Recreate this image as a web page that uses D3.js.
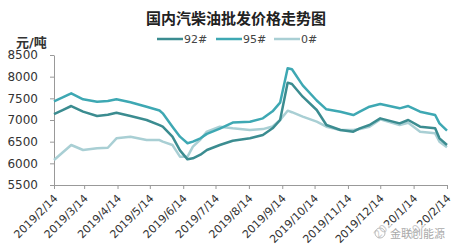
<!DOCTYPE html>
<html>
<head>
<meta charset="utf-8">
<script src="https://cdn.jsdelivr.net/npm/d3@7"></script>
<style>
  body { margin: 0; background: #fff; }
  text { font-family: "DejaVu Sans", "Noto Sans CJK SC", sans-serif; }
</style>
</head>
<body>
<svg id="chart" width="454" height="250"></svg>
<script>
// dates of the points (weekly-ish readings)
var dates = ["2019-02-14","2019-02-22","2019-03-02","2019-03-13","2019-03-26","2019-04-05","2019-04-13",
  "2019-04-26","2019-05-11","2019-05-23","2019-05-26","2019-06-04","2019-06-11","2019-06-18","2019-06-23",
  "2019-06-30","2019-07-06","2019-07-18","2019-07-30","2019-08-15","2019-08-27","2019-09-05","2019-09-12",
  "2019-09-19","2019-09-23","2019-10-03","2019-10-16","2019-10-25","2019-11-07","2019-11-19","2019-11-25",
  "2019-12-04","2019-12-14","2020-01-01","2020-01-09","2020-01-20","2020-02-03","2020-02-07","2020-02-14"];

var p92 = [7138,7230,7323,7192,7092,7120,7169,7092,7000,6880,6846,6615,6300,6092,6115,6200,6308,6423,6520,6577,
  6654,6808,7000,7862,7831,7538,7231,6885,6769,6731,6808,6885,7038,6923,7000,6846,6808,6577,6423];
var p95 = [7430,7520,7616,7477,7423,7440,7477,7408,7307,7220,7154,6846,6615,6462,6500,6577,6680,6800,6940,6961,
  7038,7200,7400,8193,8170,7800,7450,7246,7192,7115,7192,7307,7369,7269,7323,7192,7115,6923,6754];
var p0 = [6077,6250,6423,6308,6346,6360,6577,6615,6538,6538,6500,6423,6154,6154,6385,6550,6731,6846,6808,6769,
  6790,6850,7000,7215,7180,7077,6961,6846,6769,6769,6790,6846,7015,6885,6938,6731,6692,6500,6369];

var seriesNames = ["92#", "95#", "0#"];
var colors = ["#3b8c90", "#3ea8b3", "#a9cfd4"];
var yTicks = [5500, 6000, 6500, 7000, 7500, 8000, 8500];
var xTickLabels = ["2019/2/14","2019/3/14","2019/4/14","2019/5/14","2019/6/14","2019/7/14","2019/8/14",
  "2019/9/14","2019/10/14","2019/11/14","2019/12/14","2020/1/14","2020/2/14"];

var svg = d3.select("#chart");
var parse = d3.timeParse("%Y-%m-%d");
var parseTick = d3.timeParse("%Y/%m/%d");

var x = d3.scaleTime()
  .domain([parse(dates[0]), parse(dates[dates.length - 1])])
  .range([54, 447]);
var y = d3.scaleLinear().domain([5500, 8500]).range([185, 55]);

// title
svg.append("text").attr("x", 236).attr("y", 24).attr("text-anchor", "middle")
  .style("font-size", "15px").style("font-weight", "bold").attr("fill", "#222")
  .text("国内汽柴油批发价格走势图");

svg.append("text").attr("x", 16).attr("y", 47)
  .style("font-size", "13px").style("font-weight", "bold").attr("fill", "#333")
  .text("元/吨");

// legend
var legendX = [157, 216, 274];
seriesNames.forEach(function(n, i) {
  svg.append("line").attr("x1", legendX[i]).attr("x2", legendX[i] + 26)
    .attr("y1", 39).attr("y2", 39)
    .attr("stroke", colors[i]).attr("stroke-width", 2.5);
  svg.append("text").attr("x", legendX[i] + 27).attr("y", 43)
    .style("font-size", "11px").attr("fill", "#444").text(n);
});

// y axis
var yAxis = svg.append("g").attr("transform", "translate(54,0)")
  .call(d3.axisLeft(y).tickValues(yTicks).tickSize(4).tickSizeOuter(0).tickFormat(d3.format("d")));
yAxis.select(".domain").attr("stroke", "#999");
yAxis.selectAll(".tick line").attr("stroke", "#999");
yAxis.selectAll(".tick text").attr("x", -16).style("font-size", "12px").attr("fill", "#333")
  .style("font-family", "'DejaVu Sans', sans-serif");

// x axis
var xAxis = svg.append("g").attr("transform", "translate(0,185)")
  .call(d3.axisBottom(x)
    .tickValues(xTickLabels.map(function(s) { return parseTick(s); }))
    .tickSize(4).tickSizeOuter(0)
    .tickFormat(function(d, i) { return xTickLabels[i]; }));
xAxis.select(".domain").attr("stroke", "#999");
xAxis.selectAll(".tick line").attr("stroke", "#999");
xAxis.selectAll(".tick text")
  .attr("text-anchor", "end").attr("dy", 0)
  .attr("transform", "translate(4,14) rotate(-45)")
  .attr("y", 0).attr("x", 0)
  .style("font-size", "11px").attr("fill", "#333")
  .style("font-family", "'DejaVu Sans', sans-serif");

// lines
var all = [p92, p95, p0];
var line = d3.line()
  .x(function(d, i) { return x(parse(dates[i])); })
  .y(function(d) { return y(d); });
[2, 0, 1].forEach(function(i) {
  svg.append("path").datum(all[i])
    .attr("fill", "none").attr("stroke", colors[i])
    .attr("stroke-width", 2.5).attr("stroke-linejoin", "round")
    .attr("d", line);
});

// watermark
var wm = svg.append("g").attr("transform", "translate(374,236)");
wm.append("rect").attr("x", -2).attr("y", -11).attr("width", 82).attr("height", 16)
  .attr("fill", "#fff").attr("opacity", 0.75);
wm.append("circle").attr("cx", 6).attr("cy", -3).attr("r", 5)
  .attr("fill", "none").attr("stroke", "#bbb").attr("stroke-width", 1);
wm.append("text").attr("x", 16).attr("y", 2)
  .style("font-size", "11px").attr("fill", "#aaa").text("金联创能源");
</script>
</body>
</html>
